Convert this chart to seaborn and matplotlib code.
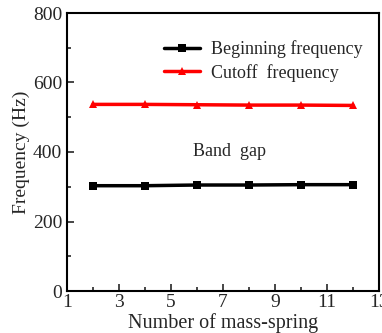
import matplotlib
matplotlib.use("Agg")
import matplotlib.pyplot as plt
import seaborn as sns
import pandas as pd
from matplotlib.ticker import FixedLocator, MultipleLocator

n_mass = [2, 4, 6, 8, 10, 12]
beginning = [303, 303, 305, 305, 306, 306]
cutoff = [537, 537, 536, 535, 535, 534]
x_ticks = [1, 3, 5, 7, 9, 11, 13]

sns.set_style("ticks")
plt.rcParams['font.family'] = ['Liberation Serif', 'DejaVu Serif']

df = pd.DataFrame({
    "n": n_mass * 2,
    "f": beginning + cutoff,
    "series": ["Beginning frequency"] * len(n_mass) + ["Cutoff  frequency"] * len(n_mass),
})

fig = plt.figure(figsize=(3.82, 3.33), dpi=100)
ax = fig.add_axes([67/382, 1 - 291/333, (379-67)/382, (291-13)/333])

sns.lineplot(data=df, x="n", y="f", hue="series", style="series",
             palette=["black", "red"], markers=["s", "^"], dashes=False,
             markersize=5.5, linewidth=2.5, markeredgewidth=0, ax=ax)

ax.set_xlim(1, 13)
ax.set_ylim(0, 800)
ax.xaxis.set_major_locator(FixedLocator(x_ticks))
ax.xaxis.set_minor_locator(FixedLocator(n_mass))
ax.yaxis.set_major_locator(MultipleLocator(200))
ax.yaxis.set_minor_locator(MultipleLocator(100))
ax.tick_params(which="both", direction="in", labelsize=14, width=1.2)
ax.tick_params(which="major", length=5)
ax.tick_params(which="minor", length=3)
ax.tick_params(axis="x", pad=2)
for s in ax.spines.values():
    s.set_linewidth(1.5)
    s.set_color("black")

ax.set_xlabel("Number of mass-spring", fontsize=14.5, labelpad=1.5)
ax.set_ylabel("Frequency (Hz)", fontsize=14, labelpad=2)

ax.text(5.85, 400, "Band  gap", fontsize=13, va="center", ha="left")

leg = ax.legend(loc="upper right", frameon=False, fontsize=13,
                handlelength=2.0, handletextpad=0.6, labelspacing=0.3,
                bbox_to_anchor=(1.0, 0.96))

fig.savefig("out.png", dpi=100)
